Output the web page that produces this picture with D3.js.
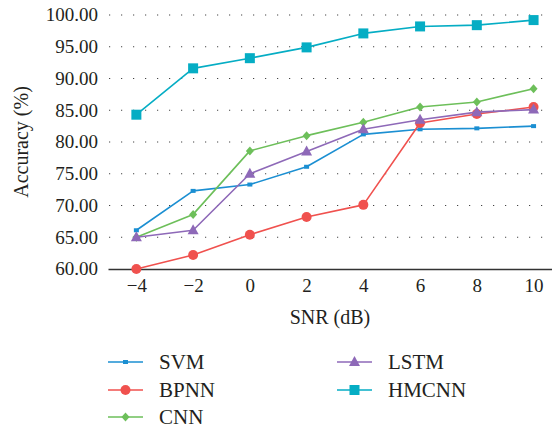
<!DOCTYPE html>
<html>
<head>
<meta charset="utf-8">
<script src="https://cdn.jsdelivr.net/npm/d3@7"></script>
<style>
  body { margin: 0; background: #fff; }
</style>
</head>
<body>
<div class="accuracy-chart"></div>
<script>
const snr = [-4, -2, 0, 2, 4, 6, 8, 10];
const yTicks = [60, 65, 70, 75, 80, 85, 90, 95, 100];

const svm   = [66.1, 72.3, 73.3, 76.1, 81.2, 82.0, 82.15, 82.5];
const bpnn  = [60.0, 62.2, 65.4, 68.2, 70.1, 83.0, 84.4, 85.5];
const cnn   = [65.0, 68.6, 78.6, 81.0, 83.1, 85.5, 86.3, 88.4];
const lstm  = [65.0, 66.1, 75.0, 78.5, 82.0, 83.5, 84.7, 85.1];
const hmcnn = [84.3, 91.6, 93.2, 94.9, 97.1, 98.2, 98.4, 99.2];

const series = [
    {name: "SVM",   values: svm,   color: "#1b8fd2", marker: "smallSquare"},
    {name: "BPNN",  values: bpnn,  color: "#f0514e", marker: "circle"},
    {name: "CNN",   values: cnn,   color: "#6dbf5a", marker: "diamond"},
    {name: "LSTM",  values: lstm,  color: "#8e69b8", marker: "triangle"},
    {name: "HMCNN", values: hmcnn, color: "#05adc4", marker: "square"}
];

const width = 552, height = 432;
const font = "'Liberation Serif', 'Times New Roman', 'DejaVu Serif', serif";
const textColor = "#231f20";

const x = d3.scaleLinear()
    .domain([-5, 10.65])
    .range([108, width]);

const y = d3.scaleLinear()
    .domain([60, 100])
    .range([269, 15]);

const svg = d3.select(".accuracy-chart").append("svg")
    .attr("width", width)
    .attr("height", height)
    .attr("viewBox", `0 0 ${width} ${height}`)
    .style("font-family", font);

// dotted horizontal grid
svg.append("g")
    .selectAll("line")
    .data(yTicks.filter(d => d > 60))
    .join("line")
    .attr("x1", x.range()[0] + 1)
    .attr("x2", x.range()[1])
    .attr("y1", d => y(d))
    .attr("y2", d => y(d))
    .attr("stroke", "#444")
    .attr("stroke-width", 1.2)
    .attr("stroke-dasharray", "1.2 10.8");

// y tick labels
svg.append("g")
    .selectAll("text")
    .data(yTicks)
    .join("text")
    .attr("x", 98)
    .attr("y", d => y(d))
    .attr("dy", "0.34em")
    .attr("text-anchor", "end")
    .style("font-family", font)
    .style("font-size", "19px")
    .style("fill", textColor)
    .text(d3.format(".2f"));

// x axis
const xAxis = g => g
    .attr("transform", `translate(0,${y(60)})`)
    .call(d3.axisBottom(x).tickValues(snr).tickSize(0).tickPadding(10))
    .call(g => g.select(".domain").attr("stroke", "#333").attr("stroke-width", 1.6))
    .call(g => g.selectAll(".tick text")
        .style("font-family", font)
        .style("font-size", "19px")
        .style("fill", textColor));

svg.append("g").call(xAxis);

svg.append("text")
    .attr("x", (x.range()[0] + x.range()[1]) / 2)
    .attr("y", 324)
    .attr("text-anchor", "middle")
    .style("font-family", font)
    .style("font-size", "20px")
    .style("fill", textColor)
    .text("SNR (dB)");

svg.append("text")
    .attr("transform", `translate(28,${y(80)}) rotate(-90)`)
    .attr("text-anchor", "middle")
    .style("font-family", font)
    .style("font-size", "20px")
    .style("fill", textColor)
    .text("Accuracy (%)");

function drawMarker(sel, type, color) {
    if (type === "circle") {
        sel.append("circle").attr("r", 5).attr("fill", color);
    } else if (type === "square") {
        sel.append("rect").attr("x", -5).attr("y", -5).attr("width", 10).attr("height", 10).attr("fill", color);
    } else if (type === "smallSquare") {
        sel.append("rect").attr("x", -2.5).attr("y", -2).attr("width", 5).attr("height", 4).attr("fill", color);
    } else if (type === "diamond") {
        sel.append("path").attr("d", "M0,-4.5L4,0L0,4.5L-4,0Z").attr("fill", color);
    } else if (type === "triangle") {
        sel.append("path").attr("d", "M0,-6L5.5,4L-5.5,4Z").attr("fill", color);
    }
}

const line = d3.line()
    .x((d, i) => x(snr[i]))
    .y(d => y(d));

series.forEach(s => {
    svg.append("path")
        .datum(s.values)
        .attr("fill", "none")
        .attr("stroke", s.color)
        .attr("stroke-width", 1.6)
        .attr("stroke-linejoin", "round")
        .attr("d", line);

    svg.append("g")
        .selectAll("g")
        .data(s.values)
        .join("g")
        .attr("transform", (d, i) => `translate(${x(snr[i])},${y(d)})`)
        .each(function() { drawMarker(d3.select(this), s.marker, s.color); });
});

// legend
const legendPos = [
    {x: 108, y: 362}, {x: 108, y: 390}, {x: 108, y: 417},
    {x: 337, y: 362}, {x: 337, y: 390}
];

series.forEach((s, i) => {
    const p = legendPos[i];
    const g = svg.append("g").attr("transform", `translate(${p.x},${p.y})`);
    g.append("line")
        .attr("x1", 0).attr("x2", 35)
        .attr("stroke", s.color)
        .attr("stroke-width", 1.6);
    drawMarker(g.append("g").attr("transform", "translate(17.5,0)"), s.marker, s.color);
    g.append("text")
        .attr("x", 51)
        .attr("dy", "0.34em")
        .style("font-family", font)
        .style("font-size", "21px")
        .style("fill", textColor)
        .text(s.name);
});
</script>
</body>
</html>
